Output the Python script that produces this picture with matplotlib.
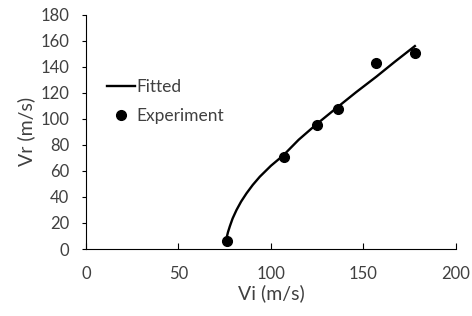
import matplotlib
matplotlib.use('Agg')
import matplotlib.pyplot as plt

# experiment points (Vi, Vr)
vi_exp = [76, 107, 125, 136, 157, 178]
vr_exp = [6, 71, 95, 108, 143, 151]

# fitted curve
vi_fit = [75.7, 76.1, 76.8, 77.8, 79.3, 81.4, 83.9, 86.8, 90.2, 94, 100, 106.7, 115, 124.7,
          135.5, 146, 157, 167, 177.8]
vr_fit = [5.6, 9, 13, 17.5, 23.5, 30, 36.5, 42.8, 49.3, 55.6, 64, 72, 84, 96,
          108.5, 120.5, 132.5, 144, 156]

x_ticks = [0, 50, 100, 150, 200]
y_ticks = list(range(0, 181, 20))

plt.rcParams['font.family'] = ['Lato', 'DejaVu Sans']
txt = '#404040'

fig = plt.figure(figsize=(4.72, 3.16), dpi=100)
ax = fig.add_axes([0.182, 0.212, 0.784, 0.741])

ax.plot(vi_fit, vr_fit, color='black', lw=1.7, label='Fitted')
ax.plot(vi_exp, vr_exp, 'o', color='black', ms=7, label='Experiment')

ax.set_xlim(0, 200)
ax.set_ylim(0, 180)
ax.set_xticks(x_ticks)
ax.set_yticks(y_ticks)
ax.spines['top'].set_visible(False)
ax.spines['right'].set_visible(False)
ax.tick_params(axis='x', direction='in', length=4, labelsize=12, pad=12, labelcolor=txt)
ax.tick_params(axis='y', direction='out', length=3, labelsize=12, pad=9, labelcolor=txt)

ax.set_xlabel('Vi (m/s)', fontsize=14, color=txt, labelpad=2)
ax.set_ylabel('Vr (m/s)', fontsize=14, color=txt, labelpad=4)

leg = ax.legend(loc='center left', bbox_to_anchor=(0.016, 0.63), frameon=False,
                handlelength=1.6, handletextpad=0.05, fontsize=12.5, labelspacing=0.75)
for t in leg.get_texts():
    t.set_color(txt)

fig.savefig('out.png', dpi=100)
